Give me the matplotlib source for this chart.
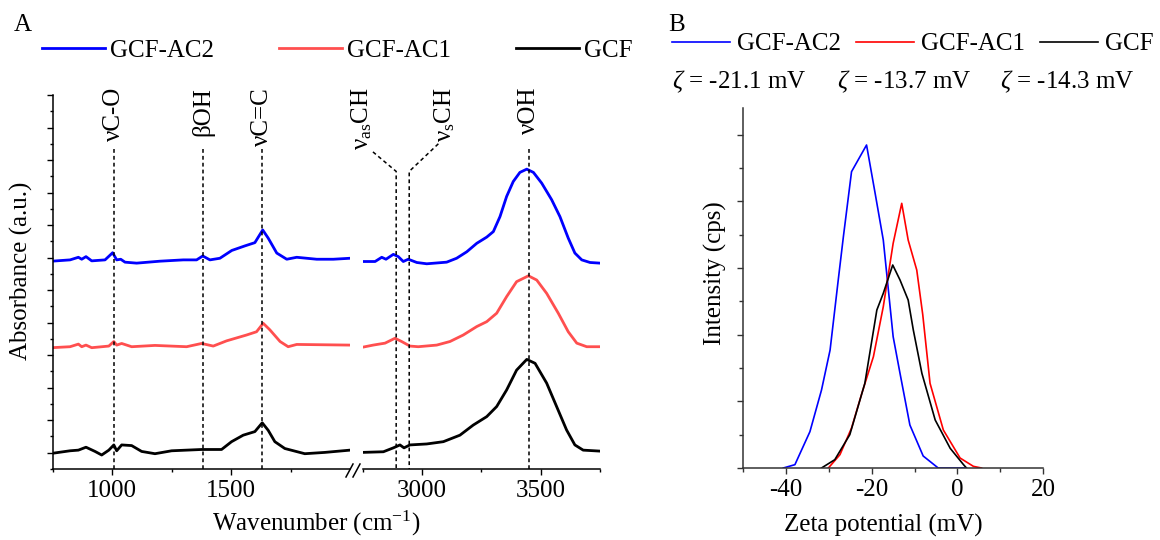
import matplotlib.pyplot as plt
from matplotlib.lines import Line2D
from matplotlib.ticker import MultipleLocator

plt.rcParams['font.family'] = 'Liberation Serif'
plt.rcParams['mathtext.fontset'] = 'custom'
plt.rcParams['mathtext.rm'] = 'Liberation Serif'
plt.rcParams['mathtext.it'] = 'Liberation Serif:italic'
plt.rcParams['axes.unicode_minus'] = False
plt.rcParams['font.size'] = 18

# --- FTIR spectra (offset, arbitrary units) ---
ac2_lo_x = [746, 823, 858, 872, 890, 914, 970, 1002, 1019, 1036, 1054, 1103, 1201, 1299, 1355, 1381,
            1411, 1453, 1503, 1558, 1600, 1633, 1656, 1692, 1734, 1776, 1860, 1930, 2000]
ac2_lo_y = [5.89, 5.93, 6.01, 5.95, 6.03, 5.90, 5.93, 6.15, 5.93, 5.95, 5.86, 5.83, 5.89, 5.93, 5.93, 6.05,
            5.93, 5.98, 6.22, 6.36, 6.46, 6.85, 6.60, 6.14, 5.95, 6.01, 5.95, 5.95, 5.98]
ac2_hi_x = [2745, 2801, 2829, 2847, 2878, 2899, 2920, 2941, 2977, 3019, 3103, 3145, 3188, 3230, 3272,
            3300, 3328, 3356, 3384, 3412, 3441, 3469, 3504, 3546, 3581, 3616, 3644, 3673, 3708, 3750]
ac2_hi_y = [5.88, 5.88, 6.01, 5.95, 6.10, 6.03, 5.88, 5.95, 5.85, 5.81, 5.86, 5.98, 6.18, 6.44, 6.63,
            6.80, 7.26, 7.88, 8.34, 8.62, 8.72, 8.62, 8.29, 7.78, 7.26, 6.60, 6.14, 5.93, 5.85, 5.83]

ac1_lo_x = [746, 823, 858, 872, 890, 914, 986, 1007, 1019, 1040, 1082, 1180, 1313, 1376, 1425, 1481,
            1565, 1607, 1635, 1663, 1706, 1740, 1776, 2000]
ac1_lo_y = [3.23, 3.26, 3.34, 3.26, 3.31, 3.23, 3.28, 3.42, 3.31, 3.36, 3.26, 3.30, 3.26, 3.36, 3.28, 3.44,
            3.62, 3.72, 3.98, 3.78, 3.42, 3.26, 3.33, 3.31]
ac1_hi_x = [2745, 2793, 2843, 2885, 2913, 2948, 2983, 3061, 3117, 3173, 3230, 3272, 3314, 3356, 3398,
            3448, 3483, 3525, 3574, 3616, 3652, 3694, 3750]
ac1_hi_y = [3.24, 3.31, 3.37, 3.52, 3.42, 3.28, 3.26, 3.31, 3.42, 3.62, 3.88, 4.03, 4.29, 4.80, 5.26,
            5.44, 5.31, 4.90, 4.29, 3.72, 3.37, 3.26, 3.26]

gcf_lo_x = [746, 823, 858, 890, 928, 956, 986, 1007, 1019, 1040, 1082, 1124, 1180, 1250, 1376, 1460,
            1502, 1551, 1600, 1631, 1656, 1684, 1726, 1810, 1894, 2000]
gcf_lo_y = [-0.02, 0.06, 0.08, 0.17, 0.04, -0.07, 0.08, 0.24, 0.06, 0.24, 0.22, 0.04, -0.03, 0.06, 0.10, 0.10,
            0.34, 0.54, 0.65, 0.92, 0.69, 0.34, 0.13, -0.03, 0.01, 0.08]
gcf_hi_x = [2745, 2836, 2878, 2906, 2923, 2948, 3019, 3089, 3159, 3215, 3272, 3314, 3356, 3398, 3441,
            3476, 3525, 3567, 3609, 3644, 3679, 3750]
gcf_hi_y = [0.01, 0.03, 0.15, 0.24, 0.15, 0.24, 0.27, 0.34, 0.54, 0.85, 1.11, 1.42, 1.93, 2.54, 2.87,
            2.75, 2.14, 1.42, 0.70, 0.24, 0.08, 0.05]

# band assignments
band_pos = [1008, 1380, 1630, 3450]
band_txt = ['νC-O', 'βOH', 'νC=C', 'νOH']
ch_pos = [2890, 2945]
ch_txt = [r'ν$_{\mathrm{as}}$CH', r'ν$_{\mathrm{s}}$CH']

# --- zeta potential distributions ---
z_ac2_x = [-40.6, -37.9, -34.4, -31.7, -29.7, -27.8, -26.6, -24.7, -21.2, -19.2, -17.3, -15.0, -13.4,
           -11.1, -8.0, -4.5, 2.0]
z_ac2_y = [0, 0.1, 1.09, 2.34, 3.54, 5.64, 6.94, 8.89, 9.69, 8.24, 6.84, 3.94, 2.84, 1.29, 0.36, 0, 0]
z_ac1_x = [-30.1, -27.4, -24.7, -22.3, -19.6, -17.3, -15.0, -13.0, -11.5, -9.5, -8.1, -6.4, -3.3, 0.6,
           3.7, 5.6]
z_ac1_y = [0, 0.4, 1.2, 2.24, 3.34, 4.84, 6.74, 7.94, 6.84, 5.94, 4.6, 2.54, 1.14, 0.3, 0.05, 0]
z_gcf_x = [-31.7, -28.6, -25.1, -21.6, -18.8, -17.3, -15.1, -13.4, -11.5, -10.3, -8.3, -5.2, -1.7, 1.4, 2.1]
z_gcf_y = [0, 0.25, 1.0, 2.54, 4.74, 5.24, 6.09, 5.64, 5.04, 4.14, 2.84, 1.44, 0.59, 0.1, 0]
zeta_txt = [r'$\zeta$ = -21.1 mV', r'$\zeta$ = -13.7 mV', r'$\zeta$ = -14.3 mV']

labels = ['GCF-AC2', 'GCF-AC1', 'GCF']

W, H = 1160, 540


def box(x0, y0, x1, y1):
    # pixel box, origin top left -> figure fraction
    return [x0 / W, 1 - y1 / H, (x1 - x0) / W, (y1 - y0) / H]


fig = plt.figure(figsize=(W / 100, H / 100), dpi=100)
ax_lo = fig.add_axes(box(52.7, 95, 350, 469))
ax_hi = fig.add_axes(box(363, 95, 600, 469))
ax_z = fig.add_axes(box(743, 108, 1043.3, 468))

lw = 2.0
l1, = ax_lo.plot(ac2_lo_x, ac2_lo_y, color='#0000ff', lw=lw)
l2, = ax_lo.plot(ac1_lo_x, ac1_lo_y, color='#ff4f4f', lw=lw)
l3, = ax_lo.plot(gcf_lo_x, gcf_lo_y, color='black', lw=lw)
ax_hi.plot(ac2_hi_x, ac2_hi_y, color='#0000ff', lw=lw)
ax_hi.plot(ac1_hi_x, ac1_hi_y, color='#ff4f4f', lw=lw)
ax_hi.plot(gcf_hi_x, gcf_hi_y, color='black', lw=lw)

dash = (0, (2.5, 2))
for ax in (ax_lo, ax_hi):
    ax.set_ylim(-0.5, 11.0)
    for s in ('top', 'right'):
        ax.spines[s].set_visible(False)
    for s in ('left', 'bottom'):
        ax.spines[s].set_linewidth(1.1)
    ax.tick_params(which='major', direction='out', length=4.5, width=1.0, labelsize=18)
    ax.tick_params(which='minor', direction='out', length=2.5, width=1.0)

ax_lo.set_xlim(750, 2000)
ax_hi.set_xlim(2750, 3750)
ax_lo.set_xticks([1000, 1500])
ax_lo.set_xticks([750, 1250, 1750], minor=True)
ax_hi.set_xticks([3000, 3500])
ax_hi.set_xticks([2750, 3250, 3750], minor=True)
ax_lo.set_yticks(range(12))
ax_lo.yaxis.set_minor_locator(MultipleLocator(0.5))
ax_lo.tick_params(axis='y', which='both', labelleft=False)
ax_hi.spines['left'].set_visible(False)
ax_hi.tick_params(axis='y', which='both', left=False, labelleft=False)

# band markers
for x, t in zip(band_pos, band_txt):
    ax = ax_lo if x < 2500 else ax_hi
    ax.plot([x, x], [9.35, -0.5], color='black', lw=1.1, ls=dash, clip_on=False)
    ax.text(x, 11.25, t, rotation=90, ha='center', va='top', fontsize=18, clip_on=False)
ax_hi.plot([2792, ch_pos[0], ch_pos[0]], [9.25, 8.65, -0.5], color='black', lw=1.1, ls=dash, clip_on=False)
ax_hi.plot([3068, ch_pos[1], ch_pos[1]], [9.5, 8.65, -0.5], color='black', lw=1.1, ls=dash, clip_on=False)
ax_hi.text(2745, 11.25, ch_txt[0], rotation=90, ha='center', va='top', fontsize=18, clip_on=False)
ax_hi.text(3093, 11.25, ch_txt[1], rotation=90, ha='center', va='top', fontsize=18, clip_on=False)

# axis break marks
for x0 in (346, 353):
    fig.add_artist(Line2D([x0 / W, (x0 + 7) / W], [1 - 477 / H, 1 - 464 / H], color='black', lw=1.1))

ax_lo.set_ylabel('Absorbance (a.u.)', fontsize=18)
ax_lo.yaxis.set_label_coords(-0.066, 0.53)
fig.text(316 / W, 1 - 523 / H, 'Wavenumber (cm$^{-1}$)', ha='center', va='center', fontsize=18)

fig.legend([l1, l2, l3], labels, loc='center left', bbox_to_anchor=(42 / W, 1 - 50.7 / H),
           ncol=3, frameon=False, borderpad=0, borderaxespad=0, handlelength=2.5,
           handletextpad=0.22, columnspacing=2.6, fontsize=18)
fig.text(23 / W, 1 - 25 / H, 'A', ha='center', va='center', fontsize=18)

# --- panel B ---
z1, = ax_z.plot(z_ac2_x, z_ac2_y, color='#0000ff', lw=1.2)
z2, = ax_z.plot(z_ac1_x, z_ac1_y, color='#ff0000', lw=1.2)
z3, = ax_z.plot(z_gcf_x, z_gcf_y, color='black', lw=1.2)
ax_z.set_xlim(-50, 20)
ax_z.set_ylim(0, 10.8)
ax_z.set_xticks([-40, -20, 0, 20])
ax_z.set_xticks([-50, -30, -10, 10], minor=True)
ax_z.set_yticks(range(0, 11, 2))
ax_z.set_yticks(range(1, 11, 2), minor=True)
ax_z.tick_params(axis='y', which='both', labelleft=False)
for s in ('top', 'right'):
    ax_z.spines[s].set_visible(False)
for s in ('left', 'bottom'):
    ax_z.spines[s].set_linewidth(1.1)
    ax_z.spines[s].set_color('#333333')
ax_z.tick_params(which='major', direction='out', length=4.5, width=1.0, labelsize=18, color='#333333')
ax_z.tick_params(which='minor', direction='out', length=3, width=1.0, color='#333333')
ax_z.set_ylabel('Intensity (cps)', fontsize=18)
ax_z.yaxis.set_label_coords(-0.053, 0.54)
fig.text(883 / W, 1 - 525 / H, 'Zeta potential (mV)', ha='center', va='center', fontsize=18)

fig.legend([z1, z2, z3], labels, loc='center left', bbox_to_anchor=(672 / W, 1 - 44 / H),
           ncol=3, frameon=False, borderpad=0, borderaxespad=0, handlelength=2.3,
           handletextpad=0.3, columnspacing=0.6, fontsize=18)
for x, t in zip([672, 837, 1000], zeta_txt):
    fig.text(x / W, 1 - 82 / H, t, ha='left', va='center', fontsize=18)
fig.text(677 / W, 1 - 25 / H, 'B', ha='center', va='center', fontsize=18)

fig.savefig('out.png', dpi=100)
